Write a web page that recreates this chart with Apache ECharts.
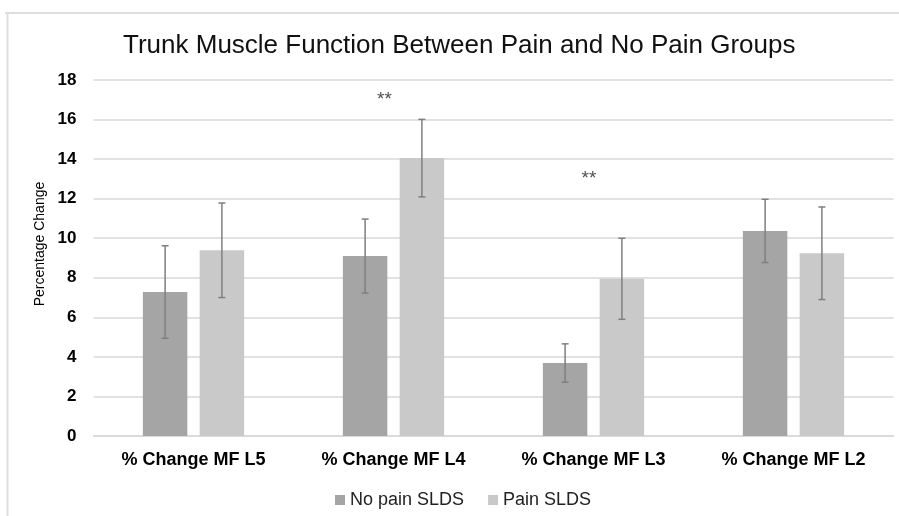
<!DOCTYPE html>
<html>
<head>
<meta charset="utf-8">
<script src="https://cdn.jsdelivr.net/npm/echarts@6/dist/echarts.min.js"></script>
<style>
html,body{margin:0;padding:0;background:#fff;}
#chart{width:899px;height:516px;}
</style>
</head>
<body>
<div id="chart"></div>
<script>
var chartTitle = 'Trunk Muscle Function Between Pain and No Pain Groups';
var categories = ['% Change MF L5', '% Change MF L4', '% Change MF L3', '% Change MF L2'];
var seriesNames = ['No pain SLDS', 'Pain SLDS'];
var noPainValues = [7.28, 9.10, 3.69, 10.37];
var painValues = [9.39, 14.05, 7.95, 9.24];
var noPainErrors = [2.34, 1.87, 0.97, 1.60];
var painErrors = [2.39, 1.96, 2.05, 2.34];
var yTicks = [0, 2, 4, 6, 8, 10, 12, 14, 16, 18];
var starCategories = [1, 2];
var starValues = [17.0, 13.02];
var starText = '**';

var BAR_W = 0.2225;   // fraction of category band
var BAR_GAP = 0.276;  // fraction of bar width
var STAR_OFFSETS = [[-9, 0], [-4.5, 0]];

var chart = echarts.init(document.getElementById('chart'), null, {renderer: 'canvas'});

function errorSeries(values, errors, sign) {
  var data = values.map(function (v, i) { return [i, v - errors[i], v + errors[i]]; });
  return {
    type: 'custom',
    silent: true,
    z: 5,
    data: data,
    encode: {x: 0, y: [1, 2]},
    renderItem: function (params, api) {
      var band = api.size([1, 0])[0];
      var bw = band * BAR_W;
      var off = sign * (bw + bw * BAR_GAP) / 2;
      var lo = api.coord([api.value(0), api.value(1)]);
      var hi = api.coord([api.value(0), api.value(2)]);
      var x = lo[0] + off;
      var cap = 3.5;
      var st = {stroke: '#7f7f7f', lineWidth: 1.5};
      return {
        type: 'group',
        children: [
          {type: 'line', shape: {x1: x, y1: lo[1], x2: x, y2: hi[1]}, style: st},
          {type: 'line', shape: {x1: x - cap, y1: lo[1], x2: x + cap, y2: lo[1]}, style: st},
          {type: 'line', shape: {x1: x - cap, y1: hi[1], x2: x + cap, y2: hi[1]}, style: st}
        ]
      };
    }
  };
}

var option = {
  animation: false,
  backgroundColor: '#ffffff',
  title: {
    text: chartTitle,
    left: 118,
    top: 28,
    textStyle: {fontFamily: 'Liberation Sans, Arial, sans-serif', fontSize: 26, fontWeight: 'normal', color: '#111'}
  },
  legend: {
    data: seriesNames,
    left: 330,
    top: 486,
    icon: 'rect',
    itemWidth: 10,
    itemHeight: 10,
    itemGap: 24,
    textStyle: {fontFamily: 'Liberation Sans, Arial, sans-serif', fontSize: 18, color: '#222'}
  },
  grid: {left: 93.5, right: 5.5, top: 80, bottom: 80, containLabel: false},
  xAxis: {
    type: 'category',
    data: categories,
    axisTick: {show: false},
    axisLine: {show: true, lineStyle: {color: '#d9d9d9', width: 1.5}},
    axisLabel: {fontFamily: 'Liberation Sans, Arial, sans-serif', fontSize: 18, fontWeight: 'bold', color: '#000', margin: 15}
  },
  yAxis: {
    type: 'value',
    min: 0,
    max: 18,
    interval: 2,
    name: 'Percentage Change',
    nameLocation: 'middle',
    nameRotate: 90,
    nameGap: 34,
    nameTextStyle: {fontFamily: 'Liberation Sans, Arial, sans-serif', fontSize: 14, color: '#000', padding: [8, 0, 0, 28]},
    axisLine: {show: false},
    axisTick: {show: false},
    splitLine: {lineStyle: {color: '#d9d9d9', width: 1.5}},
    axisLabel: {
      fontFamily: 'Liberation Sans, Arial, sans-serif', fontSize: 17, fontWeight: 'bold', color: '#000', margin: 17,
      formatter: function (v) { return yTicks.indexOf(v) >= 0 ? String(v) : ''; }
    }
  },
  series: [
    {name: seriesNames[0], type: 'bar', data: noPainValues, barWidth: (BAR_W * 100) + '%', barGap: (BAR_GAP * 100) + '%', itemStyle: {color: '#a5a5a5'}, z: 2},
    {name: seriesNames[1], type: 'bar', data: painValues, barWidth: (BAR_W * 100) + '%', barGap: (BAR_GAP * 100) + '%', itemStyle: {color: '#c9c9c9'}, z: 2},
    errorSeries(noPainValues, noPainErrors, -1),
    errorSeries(painValues, painErrors, 1),
    {
      type: 'scatter',
      silent: true,
      symbolSize: 0,
      data: starCategories.map(function (c, i) {
        return {value: [c, starValues[i]], label: {offset: STAR_OFFSETS[i]}};
      }),
      label: {
        show: true,
        position: 'inside',
        formatter: function () { return starText; },
        fontFamily: 'Liberation Sans, Arial, sans-serif',
        fontSize: 19,
        color: '#222'
      }
    }
  ],
  graphic: [
    {type: 'line', shape: {x1: 5, y1: 13, x2: 899, y2: 13}, style: {stroke: '#dedede', lineWidth: 2}, silent: true},
    {type: 'line', shape: {x1: 7.5, y1: 12, x2: 7.5, y2: 516}, style: {stroke: '#dedede', lineWidth: 2}, silent: true}
  ]
};
chart.setOption(option);
</script>
</body>
</html>
